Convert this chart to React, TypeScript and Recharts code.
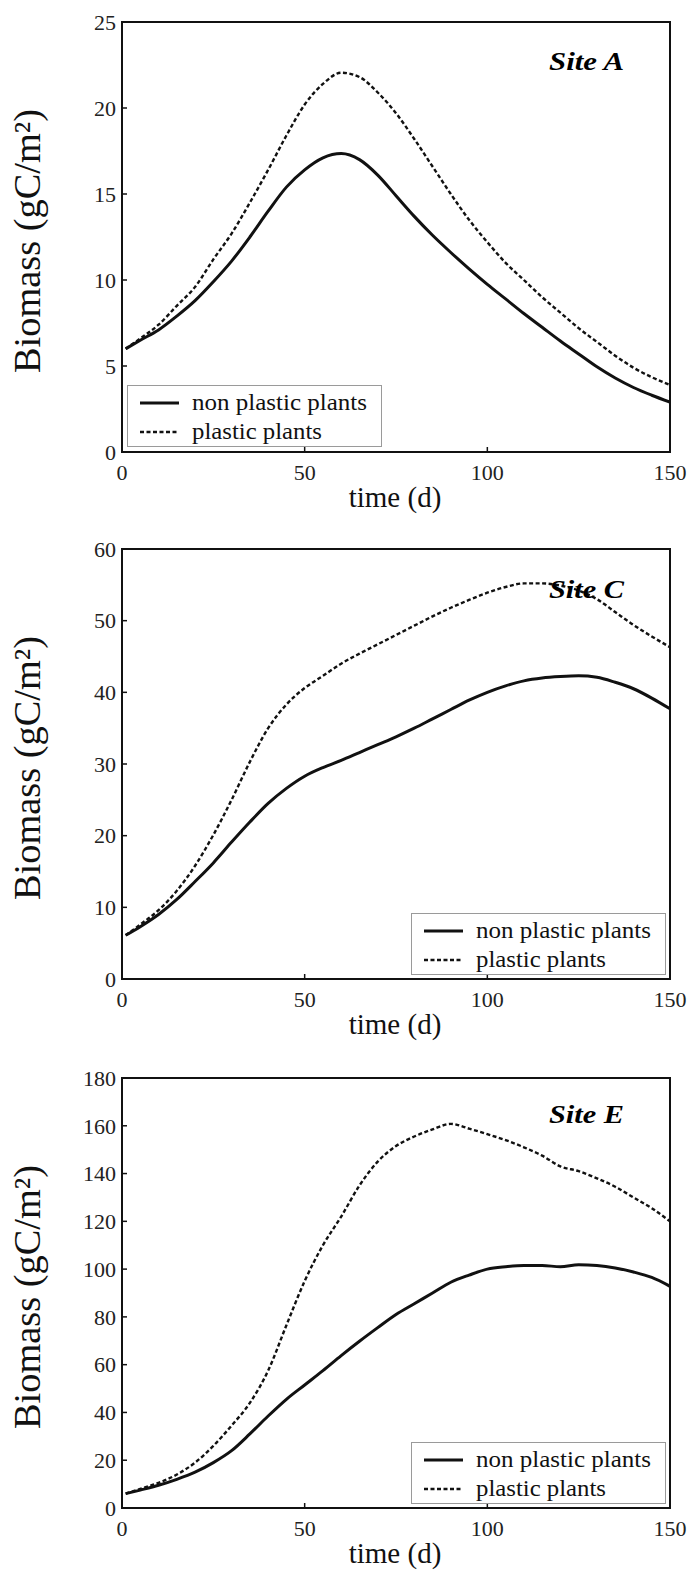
import React from "react";
import { LineChart, Line, XAxis, YAxis, Legend, ReferenceArea } from "recharts";

// days sampled every 5 d (first sample at day 1)
const days = [1, 5, 10, 15, 20, 25, 30, 35, 40, 45, 50, 55, 60, 65, 70, 75, 80, 85, 90, 95, 100, 105, 110, 115, 120, 125, 130, 135, 140, 145, 150];

const siteANonPlastic = [6.0, 6.5, 7.1, 7.9, 8.8, 9.9, 11.1, 12.5, 14.0, 15.4, 16.4, 17.1, 17.35, 17.0, 16.1, 14.9, 13.7, 12.6, 11.6, 10.65, 9.75, 8.9, 8.05, 7.25, 6.45, 5.7, 4.95, 4.3, 3.75, 3.3, 2.9];
const siteAPlastic = [6.0, 6.6, 7.4, 8.5, 9.6, 11.2, 12.7, 14.5, 16.4, 18.4, 20.2, 21.4, 22.05, 21.8, 20.9, 19.7, 18.2, 16.6, 15.0, 13.5, 12.2, 11.0, 10.0, 9.0, 8.1, 7.2, 6.4, 5.6, 4.9, 4.35, 3.9];

const siteCNonPlastic = [6.1, 7.3, 9.0, 11.1, 13.6, 16.2, 19.1, 21.9, 24.5, 26.6, 28.3, 29.5, 30.5, 31.6, 32.7, 33.8, 35.0, 36.3, 37.6, 38.9, 40.0, 40.9, 41.6, 42.0, 42.2, 42.3, 42.1, 41.4, 40.5, 39.2, 37.7];
const siteCPlastic = [6.1, 7.6, 9.6, 12.3, 15.8, 20.1, 25.0, 30.3, 35.0, 38.3, 40.6, 42.3, 44.0, 45.4, 46.7, 48.0, 49.3, 50.6, 51.8, 52.9, 53.9, 54.7, 55.2, 55.2, 54.9, 54.2, 53.0, 51.2, 49.4, 47.8, 46.3];

const siteENonPlastic = [6.0, 7.5, 9.5, 12.0, 15.0, 19.0, 24.0, 31.0, 38.5, 45.5, 51.5, 57.5, 63.8, 69.8, 75.5, 81.0, 85.5, 90.0, 94.5, 97.5, 100.0, 101.0, 101.5, 101.5, 101.0, 101.8, 101.5, 100.5, 98.8, 96.5, 92.8];
const siteEPlastic = [6.0, 8.0, 10.5, 14.0, 19.0, 26.0, 34.5, 44.0, 57.5, 76.5, 95.0, 110.0, 122.0, 135.0, 145.0, 151.5, 155.5, 158.5, 160.8, 158.8, 156.5, 154.0, 151.0, 147.5, 143.0, 141.0, 138.0, 134.5, 130.0, 125.5, 120.0];

const seriesNames = ["non plastic plants", "plastic plants"];
const xTicks = [0, 50, 100, 150];
const siteAYTicks = [0, 5, 10, 15, 20, 25];
const siteCYTicks = [0, 10, 20, 30, 40, 50, 60];
const siteEYTicks = [0, 20, 40, 60, 80, 100, 120, 140, 160, 180];

const SERIF = '"Liberation Serif", "Times New Roman", serif';
const W = 694;
const PLOT_TOP = 22;
const PLOT_H = 430;
const X_AXIS_H = 40;
const TOP_AXIS_H = 10;
const RIGHT_AXIS_W = 10;
const DASH = "4 2.5";

type PanelProps = {
  site: string;
  siteBaseline: number;
  nonPlastic: number[];
  plastic: number[];
  yTicks: number[];
  height: number;
  legendPos: { left: number; top: number };
};

function toRows(a: number[], b: number[]) {
  return days.map((d, i) => ({ day: d, nonPlastic: a[i], plastic: b[i] }));
}

function BoxLegend(props: any) {
  const payload = (props.payload || []).filter((p: any) => p.type !== "none");
  const lens = [175, 130];
  return (
    <svg width={255} height={62} style={{ display: "block" }}>
      <rect x={0.5} y={0.5} width={254} height={61} fill="#fff" stroke="#9a9a9a" strokeWidth={1} />
      {payload.map((entry: any, i: number) => {
        const y = 18 + i * 29;
        const dashed = i === 1;
        return (
          <g key={i}>
            <line
              x1={13}
              x2={52}
              y1={y}
              y2={y}
              stroke="#111"
              strokeWidth={dashed ? 2.4 : 3}
              strokeDasharray={dashed ? DASH : undefined}
            />
            <text
              x={65}
              y={y + 7}
              fontFamily={SERIF}
              fontSize={23}
              fill="#111"
              textLength={lens[i]}
              lengthAdjust="spacingAndGlyphs"
            >
              {entry.value}
            </text>
          </g>
        );
      })}
    </svg>
  );
}

function Panel({ site, siteBaseline, nonPlastic, plastic, yTicks, height, legendPos }: PanelProps) {
  const rows = toRows(nonPlastic, plastic);
  const yMax = yTicks[yTicks.length - 1];
  const bottom = height - PLOT_TOP - PLOT_H - X_AXIS_H;
  const tickFont = { fill: "#222", fontSize: 22, fontFamily: SERIF };
  const frame = { stroke: "#111", strokeWidth: 2 };
  const inTick = { stroke: "#111", strokeWidth: 1.5 };
  return (
    <div style={{ position: "relative", width: W, height }}>
      <LineChart
        width={W}
        height={height}
        data={rows}
        margin={{ top: PLOT_TOP - TOP_AXIS_H, right: 24 - RIGHT_AXIS_W, left: 62, bottom }}
      >
        {/* negative tick sizes turn the tick marks inward, matlab style */}
        <XAxis
          xAxisId="main"
          dataKey="day"
          type="number"
          domain={[0, 150]}
          allowDataOverflow
          ticks={xTicks}
          height={X_AXIS_H}
          axisLine={frame}
          tickLine={inTick}
          tickSize={-5}
          tickMargin={17}
          tick={tickFont}
          interval={0}
        />
        <XAxis
          xAxisId="top"
          dataKey="day"
          type="number"
          domain={[0, 150]}
          allowDataOverflow
          ticks={xTicks}
          orientation="top"
          height={TOP_AXIS_H}
          axisLine={false}
          tick={false}
          tickLine={inTick}
          tickSize={-5}
          interval={0}
        />
        <YAxis
          yAxisId="main"
          type="number"
          domain={[0, yMax]}
          allowDataOverflow
          ticks={yTicks}
          width={60}
          axisLine={frame}
          tickLine={inTick}
          tickSize={-5}
          tickMargin={11}
          tick={tickFont}
          interval={0}
        />
        <YAxis
          yAxisId="right"
          type="number"
          domain={[0, yMax]}
          allowDataOverflow
          ticks={yTicks}
          orientation="right"
          width={RIGHT_AXIS_W}
          axisLine={false}
          tick={false}
          tickLine={inTick}
          tickSize={-5}
          interval={0}
        />
        {/* the closed box round the plot */}
        <ReferenceArea
          xAxisId="main"
          yAxisId="main"
          x1={0}
          x2={150}
          y1={0}
          y2={yMax}
          fill="none"
          fillOpacity={0}
          stroke="#111"
          strokeWidth={2}
          ifOverflow="visible"
        />
        <Legend
          layout="horizontal"
          verticalAlign="middle"
          align="center"
          wrapperStyle={{ left: legendPos.left, top: legendPos.top, width: 255, height: 62 }}
          content={BoxLegend}
        />
        <Line
          xAxisId="main"
          yAxisId="main"
          type="monotone"
          dataKey="nonPlastic"
          name={seriesNames[0]}
          stroke="#111"
          strokeWidth={3}
          dot={false}
          activeDot={false}
          isAnimationActive={false}
        />
        <Line
          xAxisId="main"
          yAxisId="main"
          type="monotone"
          dataKey="plastic"
          name={seriesNames[1]}
          stroke="#111"
          strokeWidth={2.4}
          strokeDasharray={DASH}
          dot={false}
          activeDot={false}
          isAnimationActive={false}
        />
        {/* invisible series so the tick-only axes get a domain */}
        <Line
          xAxisId="top"
          yAxisId="right"
          dataKey="nonPlastic"
          stroke="none"
          legendType="none"
          dot={false}
          activeDot={false}
          isAnimationActive={false}
        />
      </LineChart>
      <svg
        width={W}
        height={height}
        style={{ position: "absolute", left: 0, top: 0, pointerEvents: "none" }}
      >
        <text
          transform={`translate(40, ${PLOT_TOP + PLOT_H / 2 + 4}) rotate(-90)`}
          textAnchor="middle"
          fontFamily={SERIF}
          fontSize={37}
          fill="#111"
          textLength={264}
          lengthAdjust="spacingAndGlyphs"
        >
          Biomass (gC/m²)
        </text>
        <text
          x={395}
          y={PLOT_TOP + PLOT_H + 55}
          textAnchor="middle"
          fontFamily={SERIF}
          fontSize={29}
          fill="#111"
        >
          time (d)
        </text>
        <text
          x={549}
          y={PLOT_TOP + siteBaseline}
          fontFamily={SERIF}
          fontSize={26}
          fontWeight="bold"
          fontStyle="italic"
          fill="#000"
          textLength={75}
          lengthAdjust="spacingAndGlyphs"
        >
          {site}
        </text>
      </svg>
    </div>
  );
}

export default function App() {
  return (
    <div style={{ position: "absolute", left: 0, top: 0, width: W, background: "#fff" }}>
      <Panel
        site="Site A"
        siteBaseline={48}
        nonPlastic={siteANonPlastic}
        plastic={siteAPlastic}
        yTicks={siteAYTicks}
        height={527}
        legendPos={{ left: 127, top: 385 }}
      />
      <Panel
        site="Site C"
        siteBaseline={49}
        nonPlastic={siteCNonPlastic}
        plastic={siteCPlastic}
        yTicks={siteCYTicks}
        height={529}
        legendPos={{ left: 411, top: 386 }}
      />
      <Panel
        site="Site E"
        siteBaseline={45}
        nonPlastic={siteENonPlastic}
        plastic={siteEPlastic}
        yTicks={siteEYTicks}
        height={514}
        legendPos={{ left: 411, top: 386 }}
      />
    </div>
  );
}
